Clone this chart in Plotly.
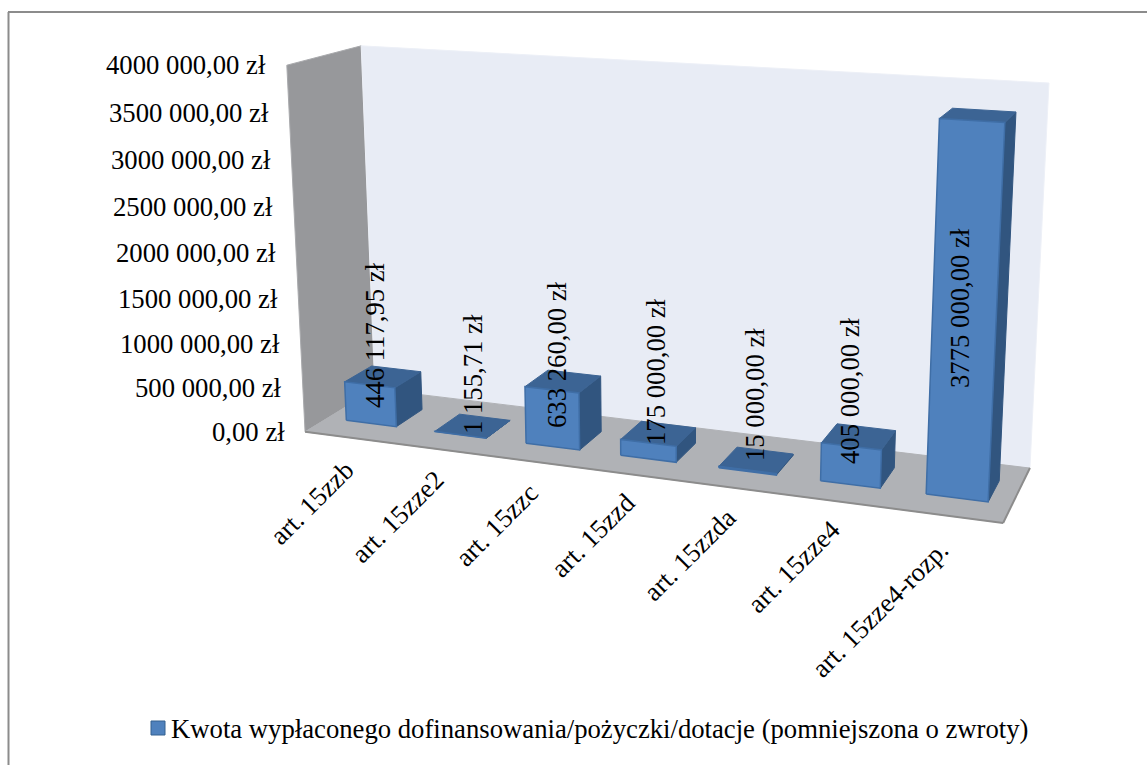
import numpy as np
import plotly.graph_objects as go

categories = ["art. 15zzb", "art. 15zze2", "art. 15zzc", "art. 15zzd", "art. 15zzda", "art. 15zze4", "art. 15zze4-rozp."]
values = [446117.95, 1155.71, 633260.00, 175000.00, 15000.00, 405000.00, 3775000.00]
value_labels = ["446 117,95 zł", "1 155,71 zł", "633 260,00 zł", "175 000,00 zł", "15 000,00 zł", "405 000,00 zł", "3775 000,00 zł"]
tick_values = [0, 500000, 1000000, 1500000, 2000000, 2500000, 3000000, 3500000, 4000000]
tick_labels = ["0,00 zł", "500 000,00 zł", "1000 000,00 zł", "1500 000,00 zł", "2000 000,00 zł",
               "2500 000,00 zł", "3000 000,00 zł", "3500 000,00 zł", "4000 000,00 zł"]
series_name = "Kwota wypłaconego dofinansowania/pożyczki/dotacje (pomniejszona o zwroty)"
V_MAX = 4000000

W, H = 1147, 765
FONT = "Liberation Serif"
FS = 26.7

# Perspective of the 3D box: (category axis, value axis, depth) -> page pixel
corners = [((0, 0, 0), (305, 432)), ((1, 0, 0), (1003, 523)), ((0, 0, 1), (375, 389)),
           ((1, 0, 1), (1030, 468)), ((0, 1, 0), (287, 65)), ((0, 1, 1), (361, 46)), ((1, 1, 1), (1049, 83))]
A = []
for (u, v, d), (x, y) in corners:
    A.append([u, v, d, 1, 0, 0, 0, 0, -x*u, -x*v, -x*d, -x])
    A.append([0, 0, 0, 0, u, v, d, 1, -y*u, -y*v, -y*d, -y])
P = np.linalg.svd(np.array(A, float))[2][-1].reshape(3, 4)


def proj(u, value, d):
    p = P @ np.array([u, value / V_MAX, d, 1.0])
    return p[0] / p[2], p[1] / p[2]


def face(fig, pts, fill, line, lw=1):
    xs, ys = zip(*pts)
    fig.add_trace(go.Scatter(x=list(xs) + [xs[0]], y=list(ys) + [ys[0]], mode="lines", fill="toself",
                             fillcolor=fill, line=dict(color=line, width=lw), hoverinfo="skip", showlegend=False))


fig = go.Figure()

# Walls and floor
face(fig, [proj(0, 0, 0), proj(0, V_MAX, 0), proj(0, V_MAX, 1), proj(0, 0, 1)], "#97989B", "#A9AAAD", 1)
face(fig, [proj(0, 0, 1), proj(0, V_MAX, 1), proj(1, V_MAX, 1), proj(1, 0, 1)], "#E8ECF5", "#EDF0F7", 1)
face(fig, [proj(0, 0, 0), proj(1, 0, 0), proj(1, 0, 1), proj(0, 0, 1)], "#B0B2B6", "#B0B2B6", 1)
for a, b in [((0, 0, 0), (1, 0, 0)), ((1, 0, 0), (1, 0, 1))]:
    pa, pb = proj(*a), proj(*b)
    fig.add_trace(go.Scatter(x=[pa[0], pb[0]], y=[pa[1], pb[1]], mode="lines",
                             line=dict(color="#8C8C8C", width=2), hoverinfo="skip", showlegend=False))

# Bars
GAP = 0.215
D0, D1 = 0.31, 0.70
n = len(categories)
for i, val in enumerate(values):
    u0, u1 = (i + GAP) / n, (i + 1 - GAP) / n
    face(fig, [proj(u1, 0, D0), proj(u1, 0, D1), proj(u1, val, D1), proj(u1, val, D0)], "#31557F", "#31557F", 1)
    face(fig, [proj(u0, val, D0), proj(u1, val, D0), proj(u1, val, D1), proj(u0, val, D1)], "#3C6494", "#3C6494", 1)
    face(fig, [proj(u0, 0, D0), proj(u1, 0, D0), proj(u1, val, D0), proj(u0, val, D0)], "#4F81BD", "#3F6EA6", 1.5)

# Legend entry: swatch and text
fig.add_trace(go.Scatter(x=[158], y=[728], mode="markers", name=series_name, hoverinfo="name", showlegend=False,
                         marker=dict(symbol="square", size=14, color="#4F81BD", line=dict(color="#35608F", width=1))))

ann = [dict(x=169, y=729, text=series_name, showarrow=False, xanchor="left", yanchor="middle",
            font=dict(family=FONT, size=FS, color="#000000"))]
# Value axis labels
for t, lab in zip(tick_values, tick_labels):
    x, y = proj(0, t, 0)
    ann.append(dict(x=x - 18.5, y=y, text=lab, showarrow=False, xanchor="right", yanchor="middle",
                    font=dict(family=FONT, size=FS, color="#000000")))
# Category labels
label_ends = [(362, 452), (452, 462), (547, 475), (644, 484), (744, 500), (848, 512), (957, 532)]
for (x, y), c in zip(label_ends, categories):
    ann.append(dict(x=x, y=y, text=c, textangle=-45, showarrow=False, xanchor="right", yanchor="top",
                    font=dict(family=FONT, size=FS, color="#000000")))
# Data labels
label_centres = [(375, 335), (473, 374), (557, 355), (656, 372), (755, 395), (850, 391), (960, 308)]
for (x, y), lab in zip(label_centres, value_labels):
    ann.append(dict(x=x, y=y, text=lab, textangle=-90, showarrow=False, xanchor="center", yanchor="middle",
                    font=dict(family=FONT, size=FS, color="#000000")))

fig.update_layout(
    width=W, height=H, margin=dict(l=0, r=0, t=0, b=0), paper_bgcolor="#FFFFFF", plot_bgcolor="#FFFFFF",
    xaxis=dict(range=[0, W], visible=False, fixedrange=True),
    yaxis=dict(range=[H, 0], visible=False, fixedrange=True),
    annotations=ann, font=dict(family=FONT, color="#000000"),
    showlegend=False,
    shapes=[dict(type="line", xref="paper", yref="paper", x0=8.5 / W, x1=8.5 / W, y0=0, y1=1 - 12 / H,
                 line=dict(color="#8C8C8C", width=2), layer="below"),
            dict(type="line", xref="paper", yref="paper", x0=8 / W, x1=1, y0=1 - 12 / H, y1=1 - 12 / H,
                 line=dict(color="#8C8C8C", width=2), layer="below")],
)
fig.write_html("out.html", config=dict(displayModeBar=False),
               post_script="document.body.style.margin='0';document.body.style.overflow='hidden';")
